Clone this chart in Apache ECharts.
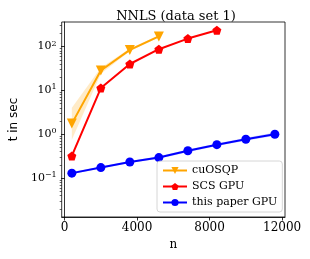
<!DOCTYPE html>
<html><head><meta charset="utf-8">
<script src="https://cdn.jsdelivr.net/npm/echarts@6/dist/echarts.min.js"></script>
<style>html,body{margin:0;padding:0;background:#fff}#c{width:310px;height:259px}</style>
</head><body><div id="c"></div>
<script>
const nValues = [400, 2000, 3600, 5200, 6800, 8400, 10000, 11600];
const cuosqp = [1.75, 28.5, 84, 170];
const cuosqpLow = [0.75, 24, 78, 160];
const cuosqpHigh = [4.0, 33, 90, 180];
const scsGpu = [0.32, 11.3, 40, 87, 152, 235];
const paperGpu = [0.13, 0.174, 0.234, 0.294, 0.42, 0.58, 0.77, 1.0];
const paperLow = [0.122, 0.165, 0.222, 0.275, 0.39, 0.54, 0.71, 0.92];
const paperHigh = [0.138, 0.184, 0.246, 0.315, 0.45, 0.62, 0.83, 1.1];
const xTicks = [0, 4000, 8000, 12000];
const yTicks = [0.1, 1, 10, 100];
const yExp = ['−1', '0', '1', '2'];

const yMin = 0.013, yMax = 363;
const minorTicks = [];
for (let e = -2; e <= 2; e++) for (let m = 2; m <= 9; m++) {
  const v = m * Math.pow(10, e);
  if (v > yMin && v < yMax) minorTicks.push(+v.toPrecision(3));
}
const font = 'DejaVu Serif';

function bandSeries(name, low, high, color) {
  return {
    type: 'custom', name: name, silent: true, z: 1,
    data: [0],
    renderItem: function (params, api) {
      const pts = [];
      for (let i = 0; i < low.length; i++) pts.push(api.coord([nValues[i], high[i]]));
      for (let i = low.length - 1; i >= 0; i--) pts.push(api.coord([nValues[i], low[i]]));
      return { type: 'polygon', shape: { points: pts }, style: { fill: color } };
    }
  };
}
function pairs(vals) { return vals.map((v, i) => [nValues[i], v]); }
const hexPath = 'path://M0,-10 L9.5,-3.1 L5.9,8.1 L-5.9,8.1 L-9.5,-3.1 Z';

const chart = echarts.init(document.getElementById('c'), null, { renderer: 'canvas' });
chart.setOption({
  animation: false,
  title: { text: 'NNLS (data set 1)', left: 171, top: 5, textAlign: 'center',
    textStyle: { fontFamily: font, fontSize: 13, fontWeight: 'normal', color: '#000' } },
  grid: { left: 58, right: 25, top: 22, bottom: 42, show: true, borderColor: '#000', borderWidth: 0.8 },
  xAxis: {
    type: 'value', min: -160, max: 12160,
    name: 'n', nameLocation: 'middle', nameGap: 21,
    nameTextStyle: { fontFamily: font, fontSize: 12, color: '#000' },
    axisLine: { show: true, lineStyle: { color: '#000', width: 0.8 } },
    axisTick: { show: true, length: 3.5, customValues: xTicks, lineStyle: { color: '#000', width: 0.8 } },
    axisLabel: { customValues: xTicks, fontFamily: font, fontSize: 12, color: '#000', margin: 5,
      formatter: function (v) { return String(v); } },
    splitLine: { show: false }
  },
  yAxis: [{
    type: 'log', min: yMin, max: yMax, logBase: 10,
    name: 't in sec', nameLocation: 'middle', nameGap: 40,
    nameTextStyle: { fontFamily: 'DejaVu Sans', fontSize: 12, color: '#000' },
    axisLine: { show: true, lineStyle: { color: '#000', width: 0.8 } },
    axisTick: { show: true, length: 3.5, customValues: yTicks, lineStyle: { color: '#000', width: 0.8 } },
    axisLabel: {
      customValues: yTicks, margin: 5,
      formatter: function (v) {
        let k = 0; for (let i = 0; i < yTicks.length; i++) if (Math.abs(yTicks[i] - v) / v < 1e-6) k = i;
        return '{b|10}{s|' + yExp[k] + '}';
      },
      rich: {
        b: { fontFamily: font, fontSize: 11, color: '#000', lineHeight: 14 },
        s: { fontFamily: font, fontSize: 8, color: '#000', verticalAlign: 'top', lineHeight: 14, padding: [0, 0, 5, 0] }
      }
    },
    splitLine: { show: false }
  }, {
    type: 'log', min: yMin, max: yMax, logBase: 10, position: 'left',
    axisLine: { show: false },
    axisTick: { show: true, length: 2, customValues: minorTicks, lineStyle: { color: '#000', width: 0.6 } },
    axisLabel: { show: false },
    splitLine: { show: false }
  }],
  legend: {
    data: ['cuOSQP', 'SCS GPU', 'this paper GPU'],
    orient: 'vertical', left: 157, top: 161, itemGap: 5, padding: [4, 5, 4, 5],
    itemWidth: 24, itemHeight: 9,
    backgroundColor: 'rgba(255,255,255,0.8)', borderColor: '#cccccc', borderWidth: 0.8, borderRadius: 3,
    textStyle: { fontFamily: font, fontSize: 11, color: '#000' }
  },
  series: [
    bandSeries('oband', cuosqpLow, cuosqpHigh, 'rgba(255,165,0,0.22)'),
    bandSeries('bband', paperLow, paperHigh, 'rgba(0,0,255,0.18)'),
    { type: 'line', name: 'cuOSQP', data: pairs(cuosqp), symbol: 'triangle', symbolRotate: 180, symbolSize: 10,
      itemStyle: { color: '#FFA500' }, lineStyle: { color: '#FFA500', width: 2 }, z: 3 },
    { type: 'line', name: 'SCS GPU', data: pairs(scsGpu), symbol: hexPath, symbolSize: 9,
      itemStyle: { color: '#FF0000' }, lineStyle: { color: '#FF0000', width: 2 }, z: 3 },
    { type: 'line', name: 'this paper GPU', data: pairs(paperGpu), symbol: 'circle', symbolSize: 9,
      itemStyle: { color: '#0000FF' }, lineStyle: { color: '#0000FF', width: 2 }, z: 3 }
  ]
});
</script></body></html>
